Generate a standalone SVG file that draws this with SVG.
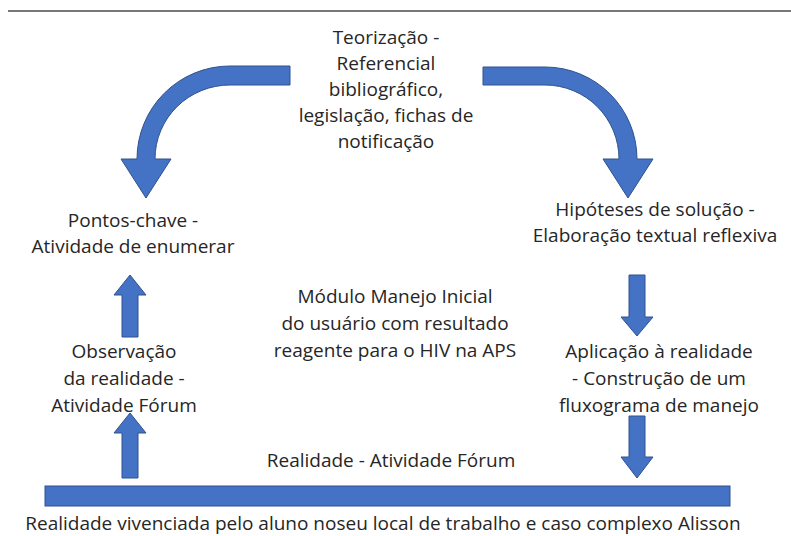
<svg xmlns="http://www.w3.org/2000/svg" width="791" height="536" viewBox="0 0 791 536">
<style>
.a{fill:#4472C4;stroke:#2F528F;stroke-width:1}
.t{font-family:"Open Sans","Noto Sans",sans-serif;font-size:19px;fill:#262626;text-anchor:middle}
</style>
<rect width="791" height="536" fill="#fff"/>
<line x1="8" y1="11" x2="791" y2="11" stroke="#4a4a4a" stroke-width="1.5"/>
<g id="connectors">
<path class="a" d="M290,66 L230,66 A93,93 0 0 0 137,159 L121,159 L146,198 L171,159 L155,159 A75,74 0 0 1 230,85 L290,85 Z"/>
<path class="a" d="M483,67 L545,67 A92,92 0 0 1 637,159 L653,159 L628,198 L603,159 L619,159 A74,74 0 0 0 545,85 L483,85 Z"/>
<path class="a" d="M122,337 L122,295 L114,295 L130,275 L146,295 L138,295 L138,337 Z"/>
<path class="a" d="M122,478 L122,433 L114,433 L130,413 L146,433 L138,433 L138,478 Z"/>
<path class="a" d="M629,275 L645,275 L645,317 L653,317 L637,336 L621,317 L629,317 Z"/>
<path class="a" d="M629,416 L645,416 L645,457 L653,457 L637,478 L621,457 L629,457 Z"/>
</g>
<g id="bar"><rect class="a" x="45" y="486" width="685" height="20"/></g>
<g id="teorizacao" class="t">
<text x="386" y="44">Teorização -</text>
<text x="386" y="70">Referencial</text>
<text x="386" y="96">bibliográfico,</text>
<text x="386" y="122">legislação, fichas de</text>
<text x="386" y="148">notificação</text>
</g>
<g id="pontos" class="t">
<text x="133" y="227">Pontos-chave -</text>
<text x="133" y="253">Atividade de enumerar</text>
</g>
<g id="hipoteses" class="t">
<text x="655" y="216">Hipóteses de solução -</text>
<text x="655" y="242">Elaboração textual reflexiva</text>
</g>
<g id="modulo" class="t">
<text x="395" y="303">Módulo Manejo Inicial</text>
<text x="395" y="330">do usuário com resultado</text>
<text x="395" y="357">reagente para o HIV na APS</text>
</g>
<g id="observacao" class="t">
<text x="124" y="358">Observação</text>
<text x="124" y="385">da realidade -</text>
<text x="124" y="412">Atividade Fórum</text>
</g>
<g id="aplicacao" class="t">
<text x="659" y="358">Aplicação à realidade</text>
<text x="659" y="385">- Construção de um</text>
<text x="659" y="412">fluxograma de manejo</text>
</g>
<g id="realidade" class="t"><text x="391" y="467">Realidade - Atividade Fórum</text></g>
<g id="vivenciada" class="t"><text x="383" y="530">Realidade vivenciada pelo aluno noseu local de trabalho e caso complexo Alisson</text></g>
</svg>
